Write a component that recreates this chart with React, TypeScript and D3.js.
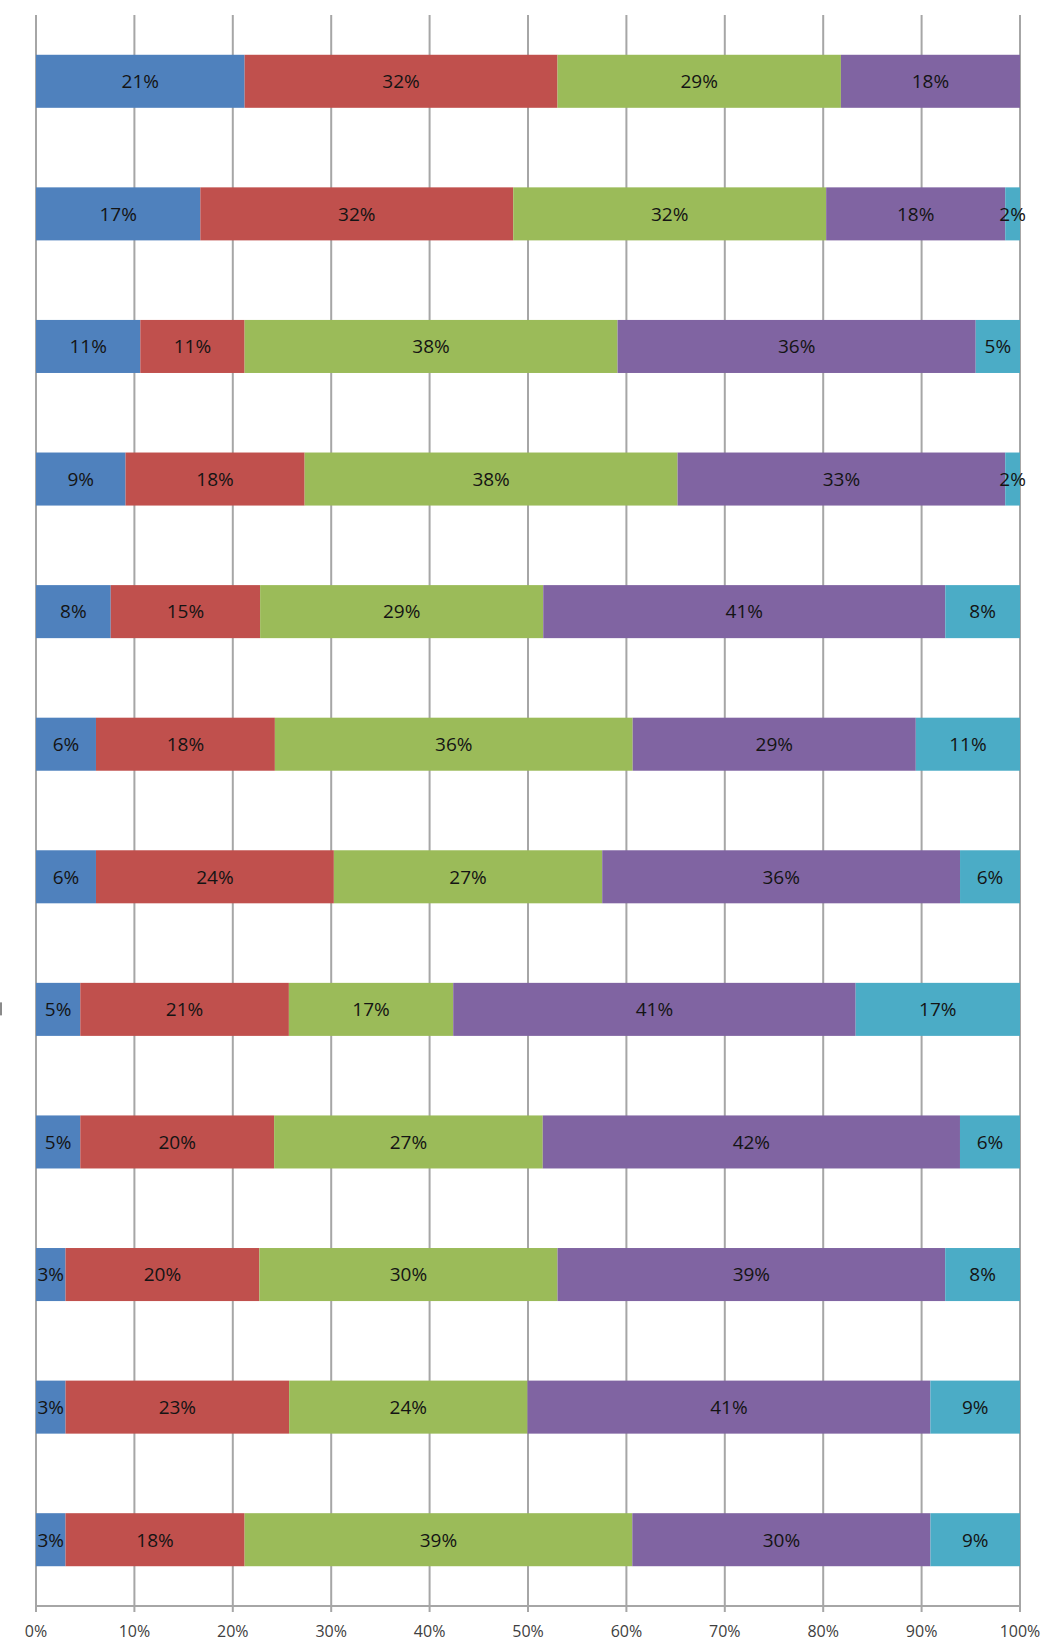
import React, { useEffect, useRef } from "react";
import * as d3 from "d3";

// one row per bar, top to bottom; shares in percent per segment
const rows = ["r1", "r2", "r3", "r4", "r5", "r6", "r7", "r8", "r9", "r10", "r11", "r12"];
const seriesA = [21.2, 16.7, 10.6, 9.1, 7.6, 6.1, 6.1, 4.5, 4.5, 3.0, 3.0, 3.0];
const seriesB = [31.8, 31.8, 10.6, 18.2, 15.2, 18.2, 24.2, 21.2, 19.7, 19.7, 22.7, 18.2];
const seriesC = [28.8, 31.8, 37.9, 37.9, 28.8, 36.4, 27.3, 16.7, 27.3, 30.3, 24.2, 39.4];
const seriesD = [18.2, 18.2, 36.4, 33.3, 40.9, 28.8, 36.4, 40.9, 42.4, 39.4, 40.9, 30.3];
const seriesE = [0, 1.5, 4.5, 1.5, 7.6, 10.6, 6.1, 16.7, 6.1, 7.6, 9.1, 9.1];
const keys = ["a", "b", "c", "d", "e"];
const colors = ["#4F81BD", "#C0504D", "#9BBB59", "#8064A2", "#4BACC6"];
const ticks = [0, 0.1, 0.2, 0.3, 0.4, 0.5, 0.6, 0.7, 0.8, 0.9, 1];

export default function App() {
  const ref = useRef<SVGSVGElement>(null);

  useEffect(() => {
    const width = 1042;
    const height = 1641;
    const margin = { top: 15, right: 22, bottom: 35, left: 36 };
    const svg = d3.select(ref.current);
    svg.selectAll("*").remove();

    const x = d3.scaleLinear().domain([0, 1]).range([margin.left, width - margin.right]);
    const y = d3.scaleBand().domain(rows).range([margin.top, height - margin.bottom]).paddingInner(0.6).paddingOuter(0.3);

    // vertical gridlines
    svg.append("g").selectAll("line").data(ticks).join("line")
      .attr("x1", d => x(d)).attr("x2", d => x(d))
      .attr("y1", margin.top).attr("y2", height - margin.bottom + 6)
      .attr("stroke", "#a6a6a6").attr("stroke-width", 2);

    // bottom axis line
    svg.append("line")
      .attr("x1", x(0)).attr("x2", x(1))
      .attr("y1", height - margin.bottom).attr("y2", height - margin.bottom)
      .attr("stroke", "#a6a6a6").attr("stroke-width", 2);

    svg.append("g").selectAll("text").data(ticks).join("text")
      .attr("x", d => x(d)).attr("y", height - 4)
      .attr("text-anchor", "middle")
      .attr("font-family", "'Open Sans', sans-serif").attr("font-size", 16)
      .attr("fill", "#404040")
      .text(d3.format(".0%"));

    // clipped category label remnant at the left edge
    svg.append("rect").attr("x", 0).attr("y", y("r8")! + y.bandwidth() / 2 - 7)
      .attr("width", 2).attr("height", 13).attr("fill", "#8a8a8a");

    const table = rows.map((r, i) => ({ row: r, a: seriesA[i], b: seriesB[i], c: seriesC[i], d: seriesD[i], e: seriesE[i] }));
    const stacked = d3.stack<any>().keys(keys).offset(d3.stackOffsetExpand)(table);

    const layers = svg.append("g").selectAll("g").data(stacked).join("g")
      .attr("fill", (_, i) => colors[i]);

    layers.selectAll("rect").data(s => s.filter(p => p.data[s.key] > 0)).join("rect")
      .attr("x", p => x(p[0])).attr("width", p => x(p[1]) - x(p[0]))
      .attr("y", p => y(p.data.row)!).attr("height", y.bandwidth());

    const labels = svg.append("g").selectAll("g").data(stacked).join("g");
    labels.selectAll("text").data(s => s.filter(p => p.data[s.key] > 0).map(p => ({ p, v: p.data[s.key] }))).join("text")
      .attr("x", d => (x(d.p[0]) + x(d.p[1])) / 2)
      .attr("y", d => y(d.p.data.row)! + y.bandwidth() / 2)
      .attr("dy", "0.36em")
      .attr("text-anchor", "middle")
      .attr("font-family", "'Open Sans', sans-serif").attr("font-size", 19)
      .attr("fill", "#141414")
      .text(d => Math.round(d.v) + "%");
  }, []);

  return (
    <svg ref={ref} width={1042} height={1641} style={{ display: "block", position: "absolute", left: 0, top: 0, background: "#fff" }} />
  );
}
